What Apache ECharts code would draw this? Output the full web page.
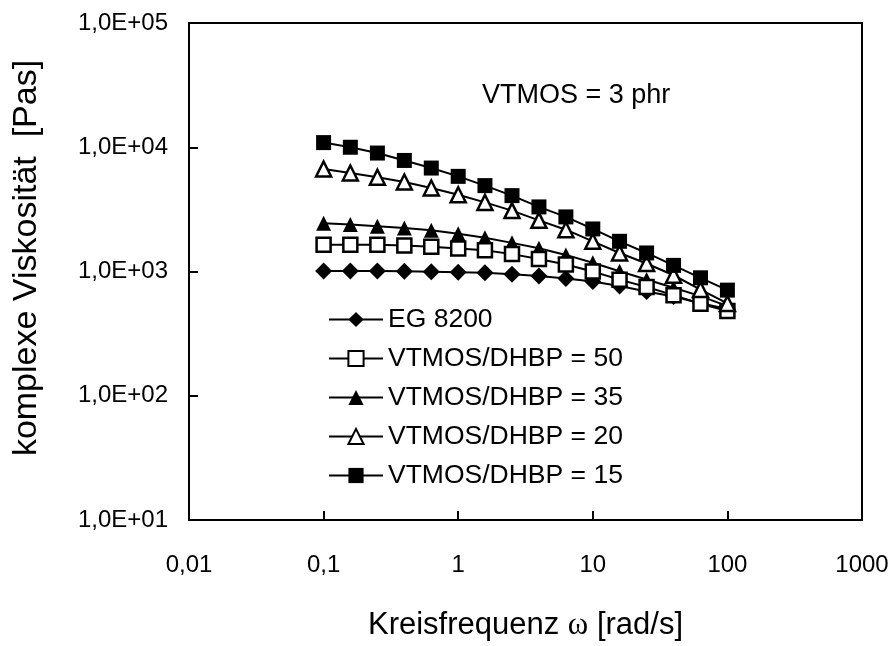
<!DOCTYPE html>
<html>
<head>
    <meta charset="utf-8">
    <title>Komplexe Viskosität</title>
    <script src="https://cdn.jsdelivr.net/npm/echarts@6/dist/echarts.min.js"></script>
    <style>
        html, body { margin: 0; padding: 0; background: #fff; }
        #main { width: 893px; height: 646px; }
    </style>
</head>
<body>
    <div id="main"></div>
    <script type="text/javascript">
    // Kreisfrequenz [rad/s]
    var omega = [0.1, 0.158, 0.251, 0.398, 0.631, 1, 1.58, 2.51, 3.98, 6.31, 10, 15.8, 25.1, 39.8, 63.1, 100];
    // komplexe Viskositaet [Pas]
    var eg8200 = [1010, 1010, 1010, 1005, 995, 985, 975, 950, 920, 880, 830, 765, 690, 630, 555, 500];
    var dhbp50 = [1640, 1640, 1640, 1620, 1580, 1530, 1480, 1380, 1260, 1140, 1000, 860, 750, 645, 550, 480];
    var dhbp35 = [2440, 2390, 2310, 2240, 2150, 2010, 1870, 1700, 1540, 1360, 1175, 1005, 863, 740, 634, 526];
    var dhbp20 = [6690, 6200, 5740, 5250, 4700, 4150, 3600, 3090, 2580, 2170, 1750, 1410, 1160, 933, 716, 553];
    var dhbp15 = [10900, 10000, 8980, 7830, 6800, 5830, 4910, 4080, 3310, 2750, 2200, 1750, 1410, 1120, 890, 708];

    var xTickLabels = ['0,01', '0,1', '1', '10', '100', '1000'];
    var yTickLabels = ['1,0E+01', '1,0E+02', '1,0E+03', '1,0E+04', '1,0E+05'];

    var font = 'Liberation Sans, Arial, sans-serif';

    function pairs(ys) {
        return omega.map(function (x, i) { return [x, ys[i]]; });
    }

    function line(name, ys, symbol, size, fill) {
        return {
            name: name,
            type: 'line',
            data: pairs(ys),
            symbol: symbol,
            symbolSize: size,
            showAllSymbol: true,
            lineStyle: { color: '#000', width: 2 },
            itemStyle: { color: fill, borderColor: '#000', borderWidth: fill === '#fff' ? 2.5 : 0 },
            emphasis: { disabled: true },
            animation: false
        };
    }

    var myChart = echarts.init(document.getElementById('main'));

    var option = {
        backgroundColor: '#fff',
        textStyle: { fontFamily: font },
        grid: {
            left: 189, right: 31, top: 23, bottom: 125,
            show: true, borderColor: '#000', borderWidth: 2, backgroundColor: 'transparent'
        },
        legend: {
            orient: 'vertical',
            left: 328,
            top: 306,
            padding: 0,
            itemWidth: 54,
            itemHeight: 19,
            itemGap: 12,
            lineStyle: { width: 2, color: '#000' },
            data: ['EG 8200', 'VTMOS/DHBP = 50', 'VTMOS/DHBP = 35', 'VTMOS/DHBP = 20', 'VTMOS/DHBP = 15'],
            textStyle: { fontSize: 26.5, color: '#000', fontFamily: font, lineHeight: 26 }
        },
        graphic: [{
            type: 'text',
            left: 482,
            top: 82,
            style: { text: 'VTMOS = 3 phr', fontSize: 27, fontFamily: font, fill: '#000' }
        }, {
            // y axis title, rotated
            type: 'text',
            x: 27,
            y: 258,
            rotation: Math.PI / 2,
            style: {
                text: 'komplexe Viskosität  [Pas]', fontSize: 34, fontFamily: font, fill: '#000',
                align: 'center', verticalAlign: 'middle'
            }
        }],
        xAxis: {
            type: 'log',
            logBase: 10,
            min: 0.01,
            max: 1000,
            splitNumber: 5,
            name: 'Kreisfrequenz {w|ω} [rad/s]',
            nameLocation: 'middle',
            nameGap: 90,
            nameTextStyle: {
                fontSize: 31, color: '#000', fontFamily: font,
                rich: { w: { fontSize: 31, fontFamily: 'Liberation Serif, Times New Roman, serif', color: '#000' } }
            },
            axisLine: { lineStyle: { color: '#000', width: 2 } },
            axisTick: { inside: true, length: 9, lineStyle: { color: '#000', width: 2 } },
            minorTick: { show: false },
            splitLine: { show: false },
            axisLabel: {
                fontSize: 24, color: '#000', margin: 33,
                formatter: function (v) { return xTickLabels[Math.round(Math.log10(v)) + 2]; }
            }
        },
        yAxis: {
            type: 'log',
            logBase: 10,
            min: 10,
            max: 100000,
            splitNumber: 4,
            axisLine: { lineStyle: { color: '#000', width: 2 } },
            axisTick: { inside: true, length: 9, lineStyle: { color: '#000', width: 2 } },
            splitLine: { show: false },
            axisLabel: {
                fontSize: 24, color: '#000', margin: 21,
                formatter: function (v) { return yTickLabels[Math.round(Math.log10(v)) - 1]; }
            }
        },
        series: [
            line('EG 8200', eg8200, 'diamond', 17, '#000'),
            line('VTMOS/DHBP = 35', dhbp35, 'triangle', 15, '#000'),
            line('VTMOS/DHBP = 50', dhbp50, 'rect', 14, '#fff'),
            line('VTMOS/DHBP = 20', dhbp20, 'triangle', 15, '#fff'),
            line('VTMOS/DHBP = 15', dhbp15, 'rect', 15, '#000')
        ]
    };

    myChart.setOption(option);
    </script>
</body>
</html>
